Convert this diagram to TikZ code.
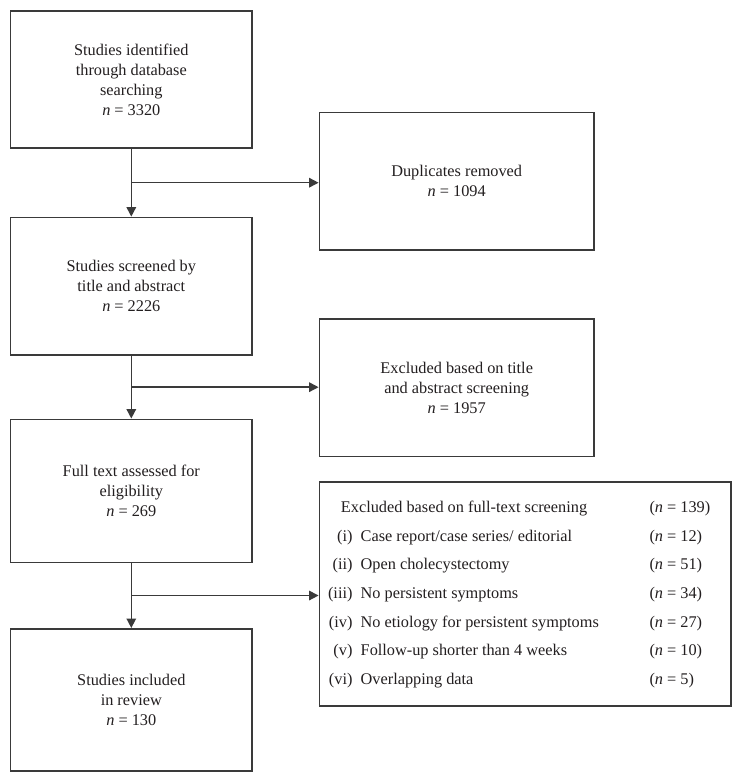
\documentclass[tikz,border=0pt]{standalone}
\usepackage{fontspec}
\setmainfont{Liberation Serif}
\usetikzlibrary{arrows.meta,calc}
\definecolor{linecol}{HTML}{3A3A3A}
\definecolor{textcol}{HTML}{231F20}
\begin{document}
\begin{tikzpicture}[x=1pt,y=-1pt,
  every node/.style={text=textcol},
  box/.style={draw=linecol, line width=1.5pt, align=center, inner sep=0pt,
    font=\fontsize{16.3}{20}\selectfont},
  txt/.style={inner sep=0pt, font=\fontsize{16.3}{20}\selectfont},
  arr/.style={draw=linecol, line width=1.5pt, -{Triangle[length=9.5pt,width=9.5pt]}},
  ln/.style={draw=linecol, line width=1.5pt}]
\useasboundingbox (0,0) rectangle (742,782);
\fill[white] (0,0) rectangle (742,782);

\node[box, minimum width=241.3pt, minimum height=137.3pt] (b1) at (131.3,79.4)
  {Studies identified\\through database\\searching\\\textit{n} = 3320};
\node[box, minimum width=241.3pt, minimum height=137.7pt] (b2) at (131.3,286.2)
  {Studies screened by\\title and abstract\\\textit{n} = 2226};
\node[box, minimum width=241.3pt, minimum height=143pt] (b3) at (131.3,490.8)
  {Full text assessed for\\eligibility\\\textit{n} = 269};
\node[box, minimum width=241.3pt, minimum height=142.3pt] (b4) at (131.3,699.9)
  {Studies included\\in review\\\textit{n} = 130};

\node[box, minimum width=274.7pt, minimum height=137.7pt] (dup) at (456.7,181.2)
  {Duplicates removed\\\textit{n} = 1094};
\node[box, minimum width=274.7pt, minimum height=137.3pt] (exc) at (456.7,387.7)
  {Excluded based on title\\and abstract screening\\\textit{n} = 1957};
\node[box, minimum width=411.7pt, minimum height=224pt] (ft) at (525.2,594) {};

% contents of full-text exclusion box
\node[txt, anchor=base west] (hd) at (340.7,512.7) {Excluded based on full-text screening};
\node[txt, anchor=base west] (hdn) at (649.3,512.7) {(\textit{n} = 139)};

\node[txt, anchor=base east] (r1) at (352.7,541.0) {(i)};
\node[txt, anchor=base west] (t1) at (360.5,541.0) {Case report/case series/ editorial};
\node[txt, anchor=base west] (n1) at (649.3,541.0) {(\textit{n} = 12)};

\node[txt, anchor=base east] (r2) at (352.7,569.7) {(ii)};
\node[txt, anchor=base west] (t2) at (360.5,569.7) {Open cholecystectomy};
\node[txt, anchor=base west] (n2) at (649.3,569.7) {(\textit{n} = 51)};

\node[txt, anchor=base east] (r3) at (352.7,598.4) {(iii)};
\node[txt, anchor=base west] (t3) at (360.5,598.4) {No persistent symptoms};
\node[txt, anchor=base west] (n3) at (649.3,598.4) {(\textit{n} = 34)};

\node[txt, anchor=base east] (r4) at (352.7,627.1) {(iv)};
\node[txt, anchor=base west] (t4) at (360.5,627.1) {No etiology for persistent symptoms};
\node[txt, anchor=base west] (n4) at (649.3,627.1) {(\textit{n} = 27)};

\node[txt, anchor=base east] (r5) at (352.7,655.8) {(v)};
\node[txt, anchor=base west] (t5) at (360.5,655.8) {Follow-up shorter than 4 weeks};
\node[txt, anchor=base west] (n5) at (649.3,655.8) {(\textit{n} = 10)};

\node[txt, anchor=base east] (r6) at (352.7,684.5) {(vi)};
\node[txt, anchor=base west] (t6) at (360.5,684.5) {Overlapping data};
\node[txt, anchor=base west] (n6) at (649.3,684.5) {(\textit{n} = 5)};

% connectors
\coordinate (m1) at ($(b1.south)!0.5!(b2.north)$);
\draw[arr] (b1.south) -- (b2.north);
\draw[arr] (m1) -- (m1 -| dup.west);

\coordinate (m2) at ($(b2.south)!0.5!(b3.north)$);
\draw[arr] (b2.south) -- (b3.north);
\draw[arr] (m2) -- (m2 -| exc.west);

\coordinate (m3) at ($(b3.south)!0.5!(b4.north)$);
\draw[arr] (b3.south) -- (b4.north);
\draw[arr] (m3) -- (m3 -| ft.west);
\end{tikzpicture}
\end{document}
